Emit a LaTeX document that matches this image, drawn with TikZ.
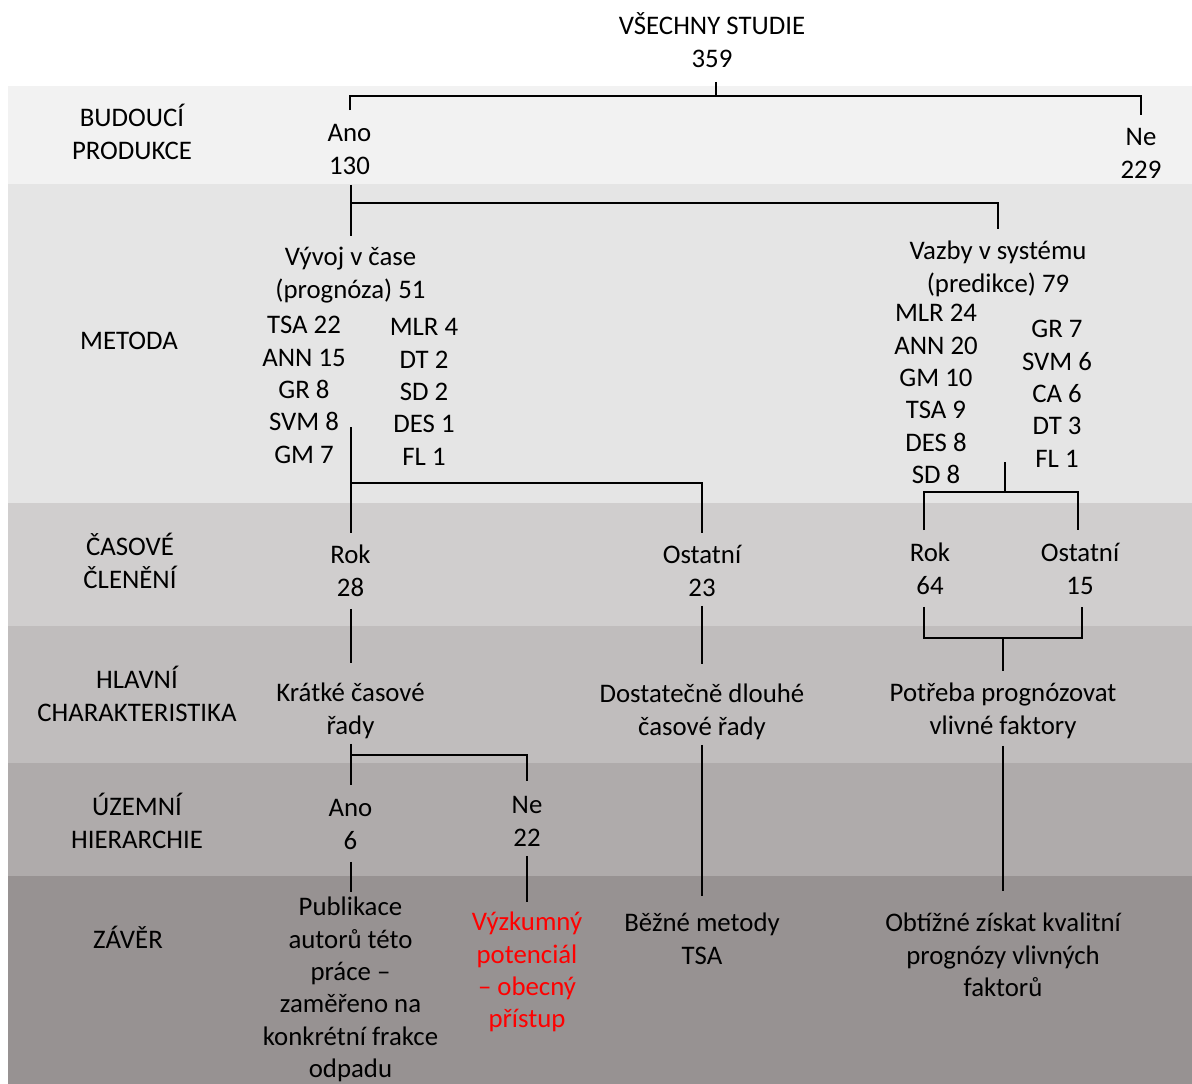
\documentclass[tikz,border=0pt]{standalone}
\usepackage{fontspec}
\setmainfont{Carlito}
\definecolor{bandA}{HTML}{F2F2F2}
\definecolor{bandB}{HTML}{E5E5E5}
\definecolor{bandC}{HTML}{D0CECE}
\definecolor{bandD}{HTML}{C0BDBD}
\definecolor{bandE}{HTML}{AFABAB}
\definecolor{bandF}{HTML}{979292}
\definecolor{redtxt}{HTML}{FF0000}
\begin{document}
\begin{tikzpicture}[x=1pt,y=-1pt,
  txt/.style={font=\fontsize{26.8}{32.4}\selectfont, align=center, inner sep=0pt, outer sep=0pt, anchor=north},
  ln/.style={line width=2pt, black}]
\useasboundingbox (0,0) rectangle (1192,1084);
% bands
\fill[bandA] (8,86) rectangle (1192,184);
\fill[bandB] (8,184) rectangle (1192,503);
\fill[bandC] (8,503) rectangle (1192,626);
\fill[bandD] (8,626) rectangle (1192,763);
\fill[bandE] (8,763) rectangle (1192,876);
\fill[bandF] (8,876) rectangle (1192,1084);
% row labels
\node[txt] (labA) at (132,104) {\strut BUDOUCÍ\\\strut PRODUKCE};
\node[txt] (labB) at (129,327) {\strut METODA};
\node[txt] (labC) at (130,533) {\strut ČASOVÉ\\\strut ČLENĚNÍ};
\node[txt] (labD) at (137,666) {\strut HLAVNÍ\\\strut CHARAKTERISTIKA};
\node[txt] (labE) at (137,793) {\strut ÚZEMNÍ\\\strut HIERARCHIE};
\node[txt] (labF) at (128,926) {\strut ZÁVĚR};
% tree nodes
\node[txt] (root) at (712,12) {\strut VŠECHNY STUDIE\\\strut 359};
\node[txt] (ano1) at (349.5,119) {\strut Ano\\\strut 130};
\node[txt] (ne1) at (1141,123) {\strut Ne\\\strut 229};
\node[txt] (vyvoj) at (350.5,243) {\strut Vývoj v čase\\\strut (prognóza) 51};
\node[txt] (vazby) at (998,237) {\strut Vazby v systému\\\strut (predikce) 79};
\node[txt] (lA) at (304,311) {\strut TSA 22\\\strut ANN 15\\\strut GR 8\\\strut SVM 8\\\strut GM 7};
\node[txt] (lB) at (424,313) {\strut MLR 4\\\strut DT 2\\\strut SD 2\\\strut DES 1\\\strut FL 1};
\node[txt] (rA) at (936,299) {\strut MLR 24\\\strut ANN 20\\\strut GM 10\\\strut TSA 9\\\strut DES 8\\\strut SD 8};
\node[txt] (rB) at (1057,315) {\strut GR 7\\\strut SVM 6\\\strut CA 6\\\strut DT 3\\\strut FL 1};
\node[txt] (rok1) at (350.5,541) {\strut Rok\\\strut 28};
\node[txt] (ost1) at (702,541) {\strut Ostatní\\\strut 23};
\node[txt] (rok2) at (930,539) {\strut Rok\\\strut 64};
\node[txt] (ost2) at (1080,539) {\strut Ostatní\\\strut 15};
\node[txt] (kratke) at (350.5,679) {\strut Krátké časové\\\strut řady};
\node[txt] (dost) at (702,680) {\strut Dostatečně dlouhé\\\strut časové řady};
\node[txt] (potreba) at (1003,679) {\strut Potřeba prognózovat\\\strut vlivné faktory};
\node[txt] (ano2) at (350.5,794) {\strut Ano\\\strut 6};
\node[txt] (ne2) at (527,791) {\strut Ne\\\strut 22};
\node[txt] (publ) at (350.5,893) {\strut Publikace\\\strut autorů této\\\strut práce –\\\strut zaměřeno na\\\strut konkrétní frakce\\\strut odpadu};
\node[txt, text=redtxt] (vyzk) at (527,908) {\strut Výzkumný\\\strut potenciál\\\strut – obecný\\\strut přístup};
\node[txt] (bezne) at (702,909) {\strut Běžné metody\\\strut TSA};
\node[txt] (obtizne) at (1003,909) {\strut Obtížné získat kvalitní\\\strut prognózy vlivných\\\strut faktorů};
% junctions
\coordinate (jA) at (716,96);
\coordinate (jB) at (350.5,203);
\coordinate (cTop) at (350.5,427);
\coordinate (jC) at (350.5,483);
\coordinate (dTop) at (1005,462);
\coordinate (jD) at (1005,492);
\coordinate (jE) at (1003,638);
\coordinate (jH) at (350.5,755);
% connectors
\draw[ln] ([xshift=4pt,yshift=-5pt]root.south) -- (jA);
\draw[ln] ([yshift=9pt]ano1.north) |- (jA) -| ([yshift=8pt]ne1.north);
\draw[ln] ([xshift=1pt,yshift=-1pt]ano1.south) -- ([yshift=7pt]vyvoj.north);
\draw[ln] (jB) -| ([yshift=8pt]vazby.north);
\draw[ln] (cTop) -- ([yshift=8pt]rok1.north);
\draw[ln] (jC) -| ([yshift=8pt]ost1.north);
\draw[ln] (dTop) -- (jD);
\draw[ln] ([xshift=-6pt,yshift=9pt]rok2.north) |- (jD) -| ([xshift=-2pt,yshift=9pt]ost2.north);
\draw[ln] ([xshift=-6pt,yshift=-3pt]rok2.south) |- (jE) -| ([xshift=2pt,yshift=-3pt]ost2.south);
\draw[ln] (jE) -- ([yshift=8pt]potreba.north);
\draw[ln] ([yshift=-3pt]rok1.south) -- ([yshift=16pt]kratke.north);
\draw[ln] (ost1.south) -- ([yshift=16pt]dost.north);
\draw[ln] (kratke.south) -- ([yshift=9pt]ano2.north);
\draw[ln] (jH) -| ([yshift=10pt]ne2.north);
\draw[ln] ([yshift=-3pt]ano2.south) -- ([yshift=1pt]publ.north);
\draw[ln] (ne2.south) -- ([yshift=6pt]vyzk.north);
\draw[ln] (dost.south) -- ([yshift=13pt]bezne.north);
\draw[ln] ([yshift=-2pt]potreba.south) -- ([yshift=18pt]obtizne.north);
\end{tikzpicture}
\end{document}
